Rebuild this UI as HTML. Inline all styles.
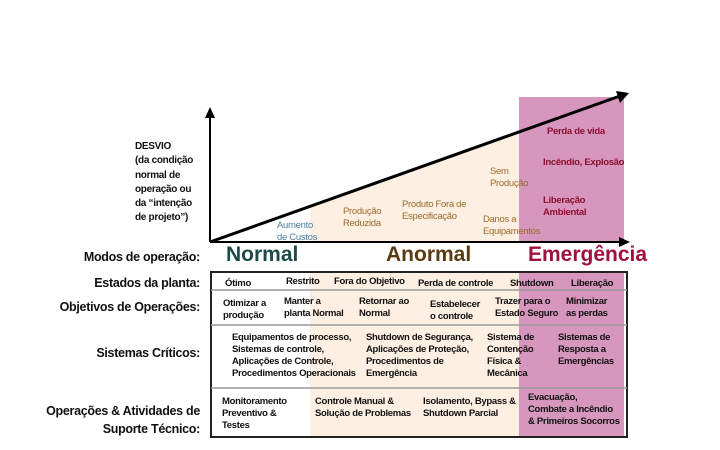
<!DOCTYPE html>
<html><head><meta charset="utf-8"><style>
body{margin:0;width:720px;height:450px;background:#fff;position:relative;overflow:hidden;font-family:"Liberation Sans",sans-serif;}
.t{position:absolute;font-weight:bold;font-size:9.5px;line-height:12px;color:#111;letter-spacing:-0.3px;white-space:nowrap}
.l{position:absolute;right:520px;font-weight:bold;font-size:12.5px;color:#111;letter-spacing:-0.3px;white-space:nowrap;text-align:right}
.o{color:#9a6a2a}.r{color:#8b1030}
</style></head><body>
<svg width="720" height="450" style="position:absolute;left:0;top:0">
<polygon points="310,206 519,132 519,242 310,242" fill="#fdf0e3"/>
<rect x="519" y="97" width="105" height="145" fill="#d696bd"/>
<rect x="310" y="272" width="209" height="165" fill="#fdf0e3"/>
<rect x="519" y="272" width="105" height="165" fill="#d696bd"/>
<line x1="210" y1="242" x2="210" y2="116" stroke="#000" stroke-width="2"/>
<polygon points="210,107 205,118 215,118" fill="#000"/>
<line x1="210" y1="242" x2="620" y2="242" stroke="#000" stroke-width="2"/>
<polygon points="630,242 619,237 619,247" fill="#000"/>
<line x1="210" y1="242" x2="620" y2="96" stroke="#000" stroke-width="3"/>
<polygon points="629,93 616,91 620,103" fill="#000"/>
<rect x="211" y="272" width="416" height="165" fill="none" stroke="#222" stroke-width="2"/>
<line x1="211" y1="290" x2="627" y2="290" stroke="#999" stroke-width="1.5"/>
<line x1="211" y1="325" x2="627" y2="325" stroke="#999" stroke-width="1.5"/>
<line x1="211" y1="388" x2="627" y2="388" stroke="#999" stroke-width="1.5"/>
</svg>
<div class="t" style="left:135px;top:140px;font-size:10px;line-height:14.3px">DESVIO<br>(da condição<br>normal de<br>operação ou<br>da “intenção<br>de projeto”)</div>
<div class="t" style="left:277px;top:220px;color:#4a7fa0;font-weight:normal">Aumento<br>de Custos</div>
<div class="t o" style="left:343px;top:206px;font-weight:normal">Produção<br>Reduzida</div>
<div class="t o" style="left:402px;top:199px;font-weight:normal">Produto Fora de<br>Especificação</div>
<div class="t o" style="left:490px;top:166px;font-weight:normal">Sem<br>Produção</div>
<div class="t o" style="left:483px;top:214px;font-weight:normal">Danos a<br>Equipamentos</div>
<div class="t r" style="left:547px;top:126px">Perda de vida</div>
<div class="t r" style="left:543px;top:157px">Incêndio, Explosão</div>
<div class="t r" style="left:543px;top:195px">Liberação<br>Ambiental</div>
<div class="t" style="left:226px;top:242px;font-size:21px;line-height:26px;color:#1f4a4a;letter-spacing:0">Normal</div>
<div class="t" style="left:386px;top:242px;font-size:21px;line-height:26px;color:#5a3a10;letter-spacing:0">Anormal</div>
<div class="t" style="left:528px;top:242px;font-size:21px;line-height:26px;color:#a0103a;letter-spacing:0">Emergência</div>
<div class="l" style="top:250px">Modos de operação:</div>
<div class="l" style="top:276px">Estados da planta:</div>
<div class="l" style="top:300px">Objetivos de Operações:</div>
<div class="l" style="top:346px">Sistemas Críticos:</div>
<div class="l" style="top:402px;line-height:18px">Operações &amp; Atividades de<br>Suporte Técnico:</div>
<div class="t" style="left:225px;top:278px">Ótimo</div>
<div class="t" style="left:286px;top:276px">Restrito</div>
<div class="t" style="left:334px;top:276px">Fora do Objetivo</div>
<div class="t" style="left:418px;top:278px">Perda de controle</div>
<div class="t" style="left:510px;top:278px">Shutdown</div>
<div class="t" style="left:571px;top:278px">Liberação</div>
<div class="t" style="left:223px;top:298px">Otimizar a<br>produção</div>
<div class="t" style="left:284px;top:296px">Manter a<br>planta Normal</div>
<div class="t" style="left:359px;top:296px">Retornar ao<br>Normal</div>
<div class="t" style="left:430px;top:299px">Estabelecer<br>o controle</div>
<div class="t" style="left:495px;top:296px">Trazer para o<br>Estado Seguro</div>
<div class="t" style="left:566px;top:296px">Minimizar<br>as perdas</div>
<div class="t" style="left:232px;top:332px">Equipamentos de processo,<br>Sistemas de controle,<br>Aplicações de Controle,<br>Procedimentos Operacionais</div>
<div class="t" style="left:366px;top:332px">Shutdown de Segurança,<br>Aplicações de Proteção,<br>Procedimentos de<br>Emergência</div>
<div class="t" style="left:487px;top:332px">Sistema de<br>Contenção<br>Física &amp;<br>Mecânica</div>
<div class="t" style="left:558px;top:332px">Sistemas de<br>Resposta a<br>Emergências</div>
<div class="t" style="left:222px;top:396px">Monitoramento<br>Preventivo &amp;<br>Testes</div>
<div class="t" style="left:315px;top:396px">Controle Manual &amp;<br>Solução de Problemas</div>
<div class="t" style="left:423px;top:396px">Isolamento, Bypass &amp;<br>Shutdown Parcial</div>
<div class="t" style="left:528px;top:392px">Evacuação,<br>Combate a Incêndio<br>&amp; Primeiros Socorros</div>
</body></html>
